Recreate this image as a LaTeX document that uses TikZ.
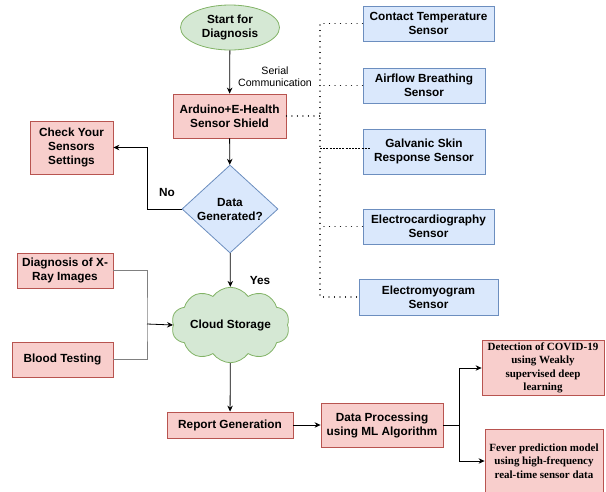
\documentclass[tikz,border=0pt]{standalone}
\usepackage{fontspec}
\setmainfont{Liberation Sans}
\newfontfamily\serifbf{Liberation Serif}
\usepackage{tikz}
\usetikzlibrary{
	arrows.meta,
	positioning,
	shapes.geometric,
	shapes.symbols
}

\definecolor{grfill}{HTML}{D5E8D4}
\definecolor{grline}{HTML}{82B366}
\definecolor{rdfill}{HTML}{F8CECC}
\definecolor{rdline}{HTML}{B85450}
\definecolor{blfill}{HTML}{DAE8FC}
\definecolor{blline}{HTML}{6C8EBF}

\begin{document}
\begin{tikzpicture}[
			x=1pt, y=-1pt,
			font=\fontsize{11.8}{14}\selectfont\bfseries,
			passo/.style={draw=rdline, fill=rdfill, line width=0.8pt, align=center, inner sep=2pt},
			sensor/.style={draw=blline, fill=blfill, line width=0.8pt, align=center, inner sep=2pt, minimum height=35pt},
			modelo/.style={passo, font=\fontsize{11}{13.5}\selectfont\serifbf\bfseries},
			inicio/.style={draw=grline, fill=grfill, line width=0.8pt, ellipse, align=center, minimum width=99pt, minimum height=45pt, inner sep=0pt},
			nuvem/.style={draw=grline, fill=grfill, line width=0.8pt, cloud, cloud puffs=10, cloud puff arc=110, aspect=1.9, minimum width=115pt, minimum height=60pt, inner sep=0pt},
			dec/.style={draw=blline, fill=blfill, line width=0.8pt, diamond, aspect=1.1, minimum width=96pt, minimum height=88pt, inner sep=0pt, align=center},
			>={Stealth[length=6pt, width=5.5pt]},
			fl/.style={->, line width=0.8pt},
			flc/.style={line width=0.8pt, draw=black!50},
			pont/.style={line width=1.2pt, dash pattern=on 0.01pt off 5.5pt, line cap=round},
			trac/.style={line width=0.7pt, dash pattern=on 2pt off 1.2pt},
			rot/.style={font=\fontsize{11.8}{14}\selectfont\bfseries, inner sep=1pt},
			nota/.style={font=\fontsize{10.6}{12}\selectfont, align=center, inner sep=1pt}
		]
		\useasboundingbox (0,0) rectangle (606,491);

		% coluna principal
		\node[inicio] (start) at (230,27.5) {Start for\\ Diagnosis};
		\node[passo, minimum width=113pt, minimum height=44pt] (shield) at (229.5,116) {Arduino+E-Health\\ Sensor Shield};
		\node[dec] (gen) at (230,209) {Data\\ Generated?};
		\node[nuvem] (cloud) at (230.5,325) {Cloud Storage};
		\node[passo, minimum width=126pt, minimum height=26pt] (report) at (230,425) {Report Generation};
		\node[passo, minimum width=122pt, minimum height=44pt] (proc) at (382,425) {Data Processing\\ using ML Algorithm};

		% lado esquerdo
		\node[passo, minimum width=83pt, minimum height=53pt] (check) at (71.5,147.5) {Check Your\\ Sensors\\ Settings};
		\node[passo, minimum width=96pt, minimum height=35pt] (xray) at (65,270.5) {Diagnosis of X-\\ Ray Images};
		\node[passo, minimum width=101pt, minimum height=35pt] (blood) at (62.5,359.5) {Blood Testing};

		% sensores
		\node[sensor, minimum width=131pt] (s1) at (428.5,23.5) {Contact Temperature\\ Sensor};
		\node[sensor, minimum width=122pt] (s2) at (424,85.5) {Airflow Breathing\\ Sensor};
		\node[sensor, minimum width=122pt, minimum height=45pt] (s3) at (424,151.5) {Galvanic Skin\\ Response Sensor};
		\node[sensor, minimum width=131pt] (s4) at (428.5,226.5) {Electrocardiography\\ Sensor};
		\node[sensor, minimum width=139pt, minimum height=36pt] (s5) at (428.5,297) {Electromyogram\\ Sensor};

		% modelos
		\node[modelo, minimum width=122pt, minimum height=52pt] (covid) at (543,368) {Detection of COVID-19\\ using Weakly\\ supervised deep\\ learning};
		\node[modelo, minimum width=118pt, minimum height=64pt] (fever) at (544,461) {Fever prediction model\\ using high-frequency\\ real-time sensor data};

		\coordinate (bus) at (320,297);
		\coordinate (ramo) at (147,324);
		\coordinate (split) at (459,425);

		\node[nota] (serial) at (275,77) {Serial\\ Communication};
		\node[rot] (no) at (167,192.5) {No};
		\node[rot] (yes) at (260,280) {Yes};

		\draw[fl] (start) -- (shield);
		\draw[fl] (shield) -- (gen);
		\draw[fl] (gen.west) -| (ramo |- check.east) -- (check.east);
		\draw[fl] (gen) -- (cloud);
		\draw[fl] (cloud) -- (report);
		\draw[fl] (report) -- (proc);
		\draw[flc] (xray.east) -| (ramo) |- (blood.east);
		\draw[fl] (ramo) -- (cloud.west);
		\draw[fl] (proc.east) -- (split) |- (covid.west);
		\draw[fl] (split) |- (fever.west);

		\draw[pont] (shield.east) -- (shield.east -| bus);
		\draw[pont] (s1.west) -| (bus) -- (s5.west);
		\draw[pont] (s2.west) -- (s2.west -| bus);
		\draw[trac] ([yshift=3.5pt]s3.west -| bus) -- ([yshift=3.5pt, xshift=8pt]s3.west);
		\draw[pont] (s4.west) -- (s4.west -| bus);
	\end{tikzpicture}
\end{document}
